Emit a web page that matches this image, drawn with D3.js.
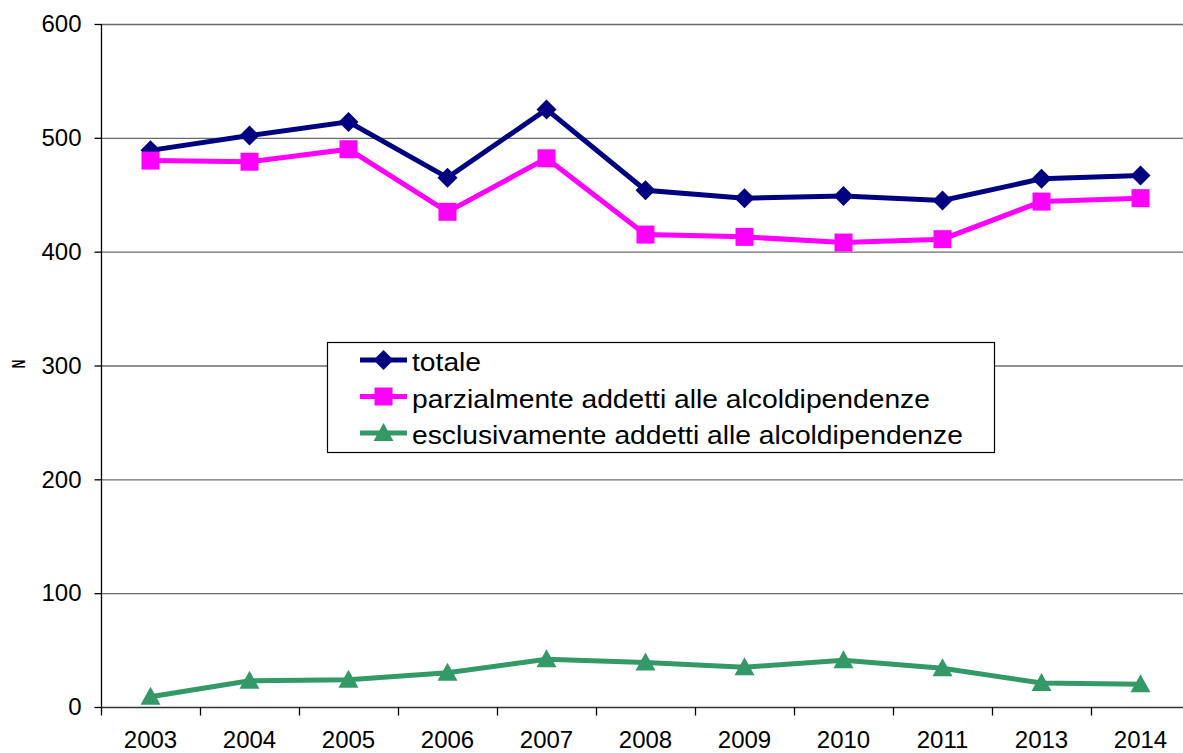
<!DOCTYPE html>
<html>
<head>
<meta charset="utf-8">
<script src="https://cdn.jsdelivr.net/npm/d3@7.9.0/dist/d3.min.js"></script>
<style>
  body { margin: 0; background: #fff; }
  svg { display: block; font-family: Arial, "Liberation Sans", sans-serif; }
</style>
</head>
<body>
<svg id="chart" width="1183" height="753"></svg>
<script>
const years = ['2003', '2004', '2005', '2006', '2007', '2008', '2009', '2010', '2011', '2013', '2014'];
const totale = [489, 502, 514, 465, 525, 454, 447, 449, 445, 464, 467];
const parziali = [480, 479, 490, 435, 482, 415, 413, 408, 411, 444, 447];
const esclusivi = [9, 23, 24, 30, 42, 39, 35, 41, 34, 21, 20];
const yTicks = [0, 100, 200, 300, 400, 500, 600];

const series = [
  { name: 'totale', values: totale, color: '#000080', marker: 'diamond' },
  { name: 'parzialmente addetti alle alcoldipendenze', values: parziali, color: '#ff00ff', marker: 'square' },
  { name: 'esclusivamente addetti alle alcoldipendenze', values: esclusivi, color: '#339966', marker: 'triangle' },
];

const svg = d3.select('#chart');
const plotLeft = 101, plotTop = 24, plotBottom = 707;
const x = d3.scaleBand().domain(years).range([plotLeft, plotLeft + 99 * years.length]);
const y = d3.scaleLinear().domain([0, 600]).range([plotBottom, plotTop]);

// gridlines
svg.append('g')
  .selectAll('line')
  .data(yTicks.filter((d) => d > 0))
  .join('line')
  .attr('x1', plotLeft).attr('x2', 1183)
  .attr('y1', (d) => y(d) + 0.5).attr('y2', (d) => y(d) + 0.5)
  .attr('stroke', '#6b6b6b').attr('stroke-width', 1.3);

// y axis
const yAxis = svg.append('g')
  .attr('transform', `translate(${plotLeft + 0.5},0)`)
  .call(d3.axisLeft(y).tickValues(yTicks).tickSize(7).tickPadding(13));
yAxis.select('.domain').attr('stroke', '#000').attr('stroke-width', 1.3).attr('d', `M0,${plotTop}V${plotBottom}`);
yAxis.selectAll('.tick line').attr('stroke', '#000').attr('stroke-width', 1.3);
yAxis.selectAll('.tick text')
  .attr('font-size', 24).attr('fill', '#000')
  .attr('font-family', 'Arial, "Liberation Sans", sans-serif');

// x axis
const xAxis = svg.append('g').attr('transform', `translate(0,${plotBottom + 0.5})`);
xAxis.append('line')
  .attr('x1', plotLeft).attr('x2', 1183).attr('stroke', '#333').attr('stroke-width', 1.3);
xAxis.selectAll('line.xt')
  .data(years)
  .join('line')
  .attr('class', 'xt')
  .attr('x1', (d) => x(d) + 0.5).attr('x2', (d) => x(d) + 0.5)
  .attr('y1', 0).attr('y2', 8)
  .attr('stroke', '#000').attr('stroke-width', 1.3);
xAxis.selectAll('text')
  .data(years)
  .join('text')
  .attr('x', (d) => x(d) + x.bandwidth() / 2)
  .attr('y', 40)
  .attr('text-anchor', 'middle')
  .attr('font-size', 24)
  .text((d) => d);

// axis title
svg.append('text')
  .attr('transform', 'translate(25,364) scale(1.6,1) rotate(-90)')
  .attr('text-anchor', 'middle')
  .attr('font-size', 12)
  .attr('font-weight', 'bold')
  .text('N');

function markerPath(type) {
  if (type === 'diamond') return 'M0,-10L10,0L0,10L-10,0Z';
  if (type === 'square') return 'M-9,-9H9V9H-9Z';
  return 'M0,-10L10,8H-10Z';
}

const line = d3.line()
  .x((d, i) => x(years[i]) + x.bandwidth() / 2)
  .y((d) => y(d));

series.forEach((s) => {
  const g = svg.append('g');
  g.append('path')
    .datum(s.values)
    .attr('d', line)
    .attr('fill', 'none')
    .attr('stroke', s.color)
    .attr('stroke-width', 5);
  g.selectAll('path.m')
    .data(s.values)
    .join('path')
    .attr('class', 'm')
    .attr('transform', (d, i) => `translate(${x(years[i]) + x.bandwidth() / 2},${y(d)})`)
    .attr('d', markerPath(s.marker))
    .attr('fill', s.color);
});

// legend
const legend = svg.append('g');
legend.append('rect')
  .attr('x', 327.5).attr('y', 342.5)
  .attr('width', 667).attr('height', 110)
  .attr('fill', '#fff').attr('stroke', '#000').attr('stroke-width', 1.2);
series.forEach((s, i) => {
  const cy = 360 + i * 36.5;
  legend.append('line')
    .attr('x1', 360).attr('x2', 407).attr('y1', cy).attr('y2', cy)
    .attr('stroke', s.color).attr('stroke-width', 5);
  legend.append('path')
    .attr('transform', `translate(383.5,${cy})`)
    .attr('d', markerPath(s.marker))
    .attr('fill', s.color);
  legend.append('text')
    .attr('transform', `translate(412,${cy + 11}) scale(1.13,1)`)
    .attr('font-size', 25)
    .text(s.name);
});
</script>
</body>
</html>
